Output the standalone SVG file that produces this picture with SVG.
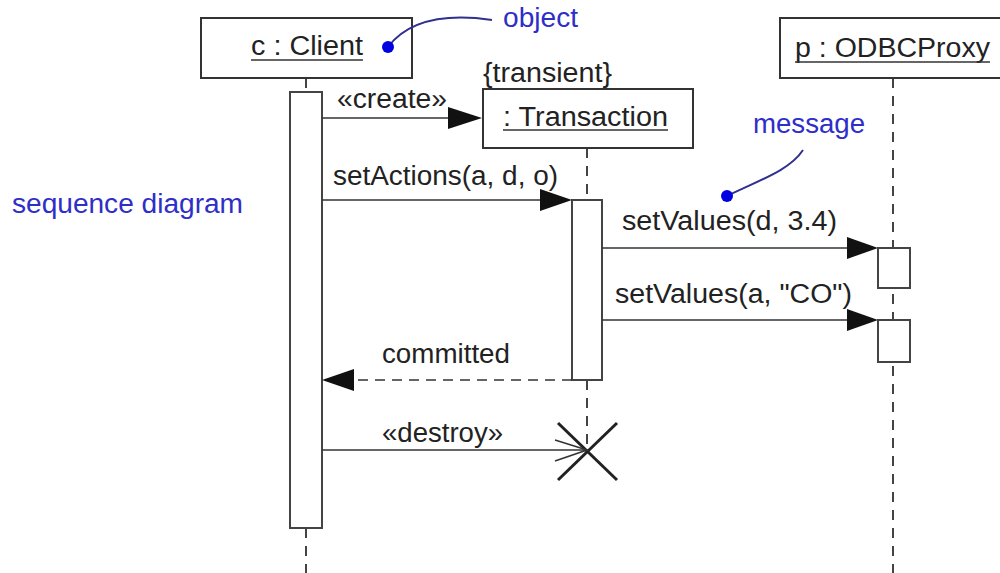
<svg xmlns="http://www.w3.org/2000/svg" width="1000" height="573" viewBox="0 0 1000 573">
<style>
text{font-family:"Liberation Sans",Arial,sans-serif;font-size:27px;fill:#222}
.note{fill:#2e2ec8}
.box{fill:#fff;stroke:#333;stroke-width:2}
.act{fill:#fff;stroke:#444;stroke-width:2}
.life{stroke:#444;stroke-width:2;stroke-dasharray:10,8;fill:none}
.msg{stroke:#333;stroke-width:1.6;fill:none}
.ret{stroke:#333;stroke-width:1.6;fill:none;stroke-dasharray:10,7}
.ul{stroke:#333;stroke-width:1.5}
.head{fill:#111}
.lead{stroke:#303090;stroke-width:2;fill:none}
.dot{fill:#0000e0}
</style>
<rect width="1000" height="573" fill="#fff"/>
<g id="lifelines">
<line class="life" x1="306" y1="78" x2="306" y2="92"/>
<line class="life" x1="306" y1="528" x2="306" y2="573"/>
<line class="life" x1="587" y1="148" x2="587" y2="200"/>
<line class="life" x1="587" y1="380" x2="587" y2="450"/>
<line class="life" x1="893" y1="78" x2="893" y2="573"/>
</g>
<g id="client">
<rect class="box" x="201" y="18" width="211" height="60"/>
<text x="251" y="55" textLength="112" lengthAdjust="spacingAndGlyphs">c : Client</text>
<line class="ul" x1="251" y1="60" x2="363" y2="60"/>
<rect class="act" x="290" y="92" width="32" height="436"/>
</g>
<g id="transaction">
<text x="483" y="82" textLength="129" lengthAdjust="spacingAndGlyphs">{transient}</text>
<rect class="box" x="483" y="89" width="210" height="59"/>
<text x="503" y="126" textLength="165" lengthAdjust="spacingAndGlyphs">: Transaction</text>
<line class="ul" x1="503" y1="130" x2="668" y2="130"/>
<rect class="act" x="572" y="200" width="30" height="180"/>
<g id="destroy-x" stroke="#222" stroke-width="3">
<line x1="558" y1="423" x2="617" y2="480"/>
<line x1="617" y1="423" x2="558" y2="480"/>
</g>
</g>
<g id="odbcproxy">
<rect class="box" x="780" y="18" width="226" height="60"/>
<text x="795" y="57" textLength="195" lengthAdjust="spacingAndGlyphs">p : ODBCProxy</text>
<line class="ul" x1="795" y1="62" x2="990" y2="62"/>
<rect class="act" x="878" y="248" width="32" height="40"/>
<rect class="act" x="878" y="320" width="32" height="42"/>
</g>
<g id="connectors">
<line class="msg" x1="322" y1="118" x2="450" y2="118"/>
<polygon class="head" points="448,107 482,118 448,129"/>
<text x="337" y="108" textLength="110" lengthAdjust="spacingAndGlyphs">«create»</text>
<line class="msg" x1="322" y1="200" x2="542" y2="200"/>
<polygon class="head" points="540,189 572,200 540,211"/>
<text x="333" y="185" textLength="225" lengthAdjust="spacingAndGlyphs">setActions(a, d, o)</text>
<line class="msg" x1="602" y1="248" x2="849" y2="248"/>
<polygon class="head" points="847,237 878,248 847,259"/>
<text x="622" y="230" textLength="215" lengthAdjust="spacingAndGlyphs">setValues(d, 3.4)</text>
<line class="msg" x1="602" y1="320" x2="849" y2="320"/>
<polygon class="head" points="847,309 878,320 847,331"/>
<text x="615" y="303" textLength="237" lengthAdjust="spacingAndGlyphs">setValues(a, "CO")</text>
<line class="ret" x1="572" y1="380" x2="352" y2="380"/>
<polygon class="head" points="354,369 322,380 354,391"/>
<text x="382" y="363" textLength="128" lengthAdjust="spacingAndGlyphs">committed</text>
<line class="msg" x1="322" y1="450" x2="587" y2="450"/>
<polyline class="msg" points="555,440 587,450 555,461"/>
<text x="382" y="442" textLength="121" lengthAdjust="spacingAndGlyphs">«destroy»</text>
</g>
<g id="annotations">
<path class="lead" d="M388,47 C410,18 450,14 492,20"/>
<circle class="dot" cx="388" cy="47" r="6"/>
<text class="note" x="503" y="27" textLength="75" lengthAdjust="spacingAndGlyphs">object</text>
<path class="lead" d="M727,196 C760,180 790,170 803,150"/>
<circle class="dot" cx="727" cy="196" r="6"/>
<text class="note" x="753" y="133" textLength="112" lengthAdjust="spacingAndGlyphs">message</text>
<text class="note" x="12" y="213" textLength="231" lengthAdjust="spacingAndGlyphs">sequence diagram</text>
</g>
</svg>
